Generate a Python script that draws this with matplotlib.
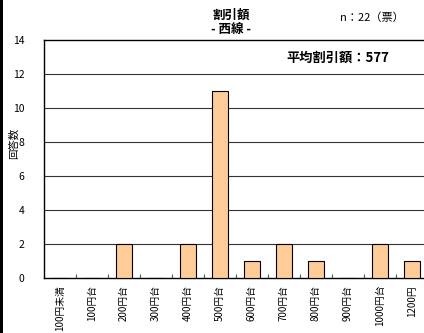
import numpy as np
import matplotlib
matplotlib.use("Agg")
import matplotlib.pyplot as plt
import matplotlib.patches as patches

plt.rcParams['font.family'] = ['Noto Sans CJK JP', 'DejaVu Sans']

categories = ["100円未満", "100円台", "200円台", "300円台", "400円台", "500円台",
              "600円台", "700円台", "800円台", "900円台", "1000円台", "1200円"]
counts = [0, 0, 2, 0, 2, 11, 1, 2, 1, 0, 2, 1]
yticks = [0, 2, 4, 6, 8, 10, 12, 14]

W, H = 424, 333
fig = plt.figure(figsize=(W / 100, H / 100), dpi=100)
ax = fig.add_axes([44 / W, 1 - 278 / H, 1 - 44 / W, (278 - 40) / H])

x = np.arange(len(categories))
ax.bar(x, counts, width=0.5, color="#FFCC99", edgecolor="black", linewidth=0.8, zorder=3)

ax.set_xlim(-0.5, 11.375)
ax.set_ylim(0, 14)
ax.set_yticks(yticks)
ax.set_yticklabels([str(v) for v in yticks], fontsize=7.5)
for v in yticks[1:-1]:
    ax.axhline(v, color="#333333", linewidth=0.8, zorder=1)

ax.set_xticks(x)
ax.set_xticklabels(categories, rotation=90, fontsize=7)
ax.set_xticks(np.arange(0.5, 11.5, 1), minor=True)
ax.tick_params(axis="x", which="major", length=0, pad=5)
ax.tick_params(axis="x", which="minor", direction="in", length=3, width=0.8, color="#555555")
ax.tick_params(axis="y", length=0, pad=14)

ax.spines["right"].set_visible(False)
for s in ["left", "top", "bottom"]:
    ax.spines[s].set_linewidth(1.0)
    ax.spines[s].set_color("black")

ax.set_ylabel("回答数", fontsize=7.5)
ax.yaxis.set_label_coords((19 - 44) / 380, (278 - 143) / 238)

fig.text(231 / W, 1 - 15 / H, "割引額", ha="center", va="center", fontsize=9, fontweight="bold", fontstyle="italic")
fig.text(231 / W, 1 - 29 / H, "- 西線 -", ha="center", va="center", fontsize=9, fontweight="bold", fontstyle="italic")
fig.text(372 / W, 1 - 18 / H, "n：22（票）", ha="center", va="center", fontsize=8)
ax.text((389 - 44) / 380, 0.925, "平均割引額：577", transform=ax.transAxes, ha="right", va="center",
        fontsize=9.5, fontweight="bold")

fig.patches.append(patches.Rectangle((0, 0), 3 / W, 1, transform=fig.transFigure,
                                     facecolor="black", edgecolor="none"))

fig.savefig("out.png", dpi=100)
